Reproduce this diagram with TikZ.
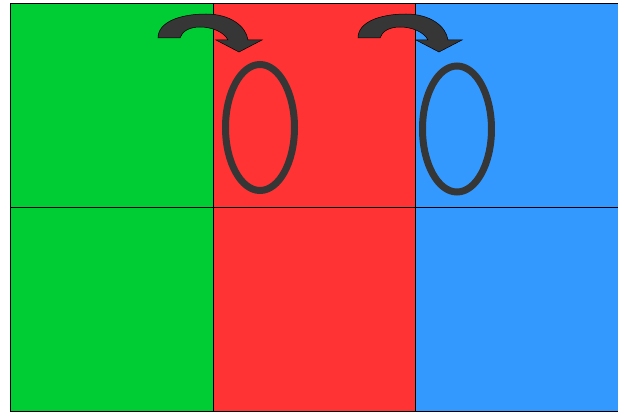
\documentclass[tikz,border=0pt]{standalone}
\usetikzlibrary{shapes.geometric}
\definecolor{cgreen}{HTML}{00CC33}
\definecolor{cred}{HTML}{FF3333}
\definecolor{cblue}{HTML}{3399FF}
\definecolor{cdark}{HTML}{363636}
\begin{document}
\begin{tikzpicture}[x=1pt,y=-1pt,
  panel/.style={draw=none},
  ring/.style={draw=cdark,line width=7pt},
  curl/.style={fill=cdark,draw=black,line width=0.5pt}]
\useasboundingbox (0,0) rectangle (625,412);
% panels
\fill[cgreen] (10.5,3.5) rectangle (213,411);
\fill[cred] (213,3.5) rectangle (415,411);
\fill[cblue] (415,3.5) rectangle (618,411);
\draw[line width=0.8pt] (618,3.5) -- (10.5,3.5) -- (10.5,411) -- (618,411);
\draw[line width=0.8pt] (213,3.5) -- (213,411);
\draw[line width=0.8pt] (415,3.5) -- (415,411);
\draw[line width=0.8pt] (10.5,207) -- (618,207);
% rings
\draw[ring] (260,127.5) ellipse (34.5 and 63);
\draw[ring] (457,129) ellipse (34.5 and 63);
% curved arrows
\foreach \dx in {0,200}{
\begin{scope}[xshift=\dx]
\draw[curl] (158,38) .. controls (158,22) and (180,14) .. (206,14)
  .. controls (230,14) and (246,26) .. (248,40)
  -- (262,40) -- (239,52) -- (216,40) -- (228,40)
  .. controls (224,32) and (212,27) .. (200,27)
  .. controls (190,27) and (182,31) .. (180,38) -- cycle;
\end{scope}}
\end{tikzpicture}
\end{document}
